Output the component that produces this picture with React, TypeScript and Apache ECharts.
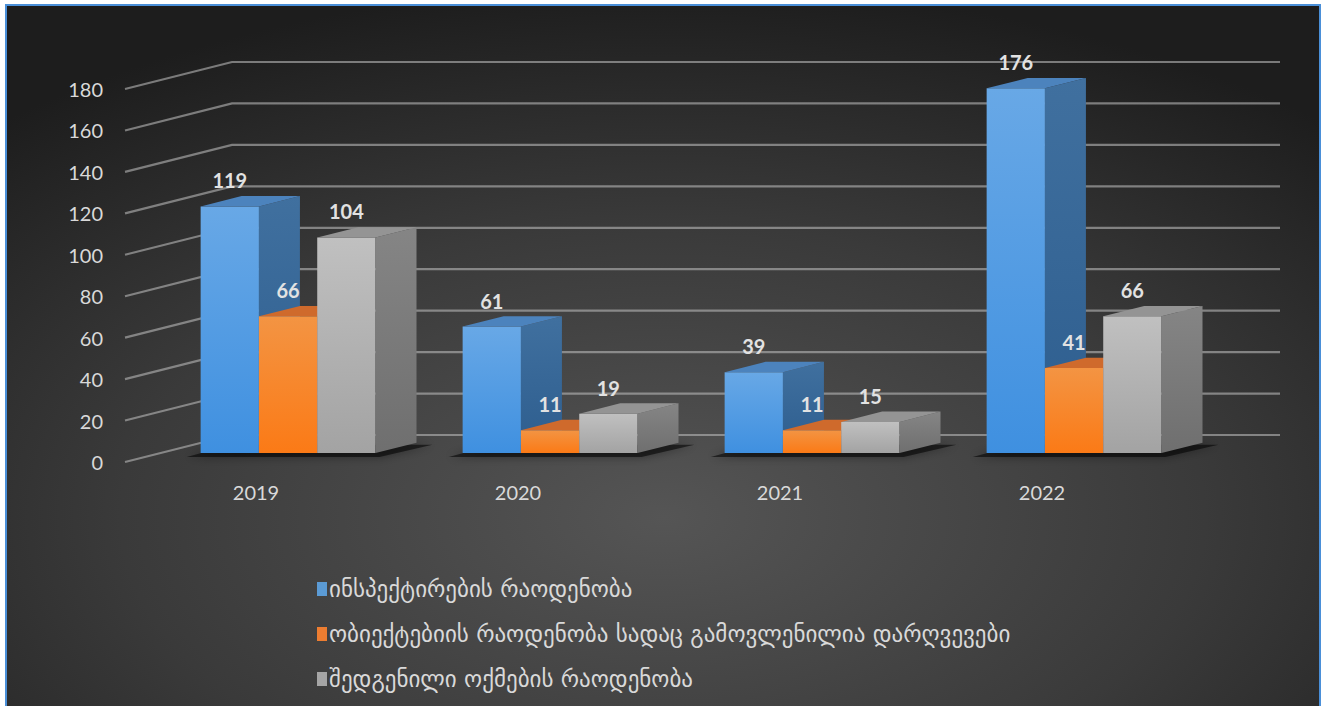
import React, { useEffect, useRef } from "react";
import * as echarts from "echarts";

const CATEGORIES = ["2019", "2020", "2021", "2022"];
const INSPECTIONS = [119, 61, 39, 176];
const VIOLATIONS = [66, 11, 11, 41];
const PROTOCOLS = [104, 19, 15, 66];
const SERIES_NAMES = [
  "ინსპექტირების რაოდენობა",
  "ობიექტებიის რაოდენობა სადაც გამოვლენილია დარღვევები",
  "შედგენილი ოქმების რაოდენობა",
];
const Y_TICKS = [0, 20, 40, 60, 80, 100, 120, 140, 160, 180];

// projection / layout constants
const DEPTH = [107, -27];
const BAR_DEPTH_START = 0.333;
const BAR_DEPTH = 0.383;
const GROUP_OFFSET = 0.1527;
const BAR_W = 0.2225;

const FACE_STYLES = [
  {
    front: ["#68a8e6", "#3f90e0"],
    side: ["#40709f", "#2d5d8e"],
    top: "#4c83bd",
    legend: "#5b9bd5",
  },
  {
    front: ["#f39443", "#fb7a16"],
    side: ["#b85d22", "#a9521b"],
    top: "#cf6a2c",
    legend: "#ed7d31",
  },
  {
    front: ["#c0c0c0", "#a3a3a3"],
    side: ["#858585", "#6f6f6f"],
    top: "#949494",
    legend: "#a5a5a5",
  },
];

const vgrad = (a: string, b: string) =>
  new echarts.graphic.LinearGradient(0, 0, 0, 1, [
    { offset: 0, color: a },
    { offset: 1, color: b },
  ]);

function barRenderer(sIdx: number) {
  return (params: any, api: any) => {
    const cat = api.value(0);
    const v = api.value(1);
    const base = api.coord([cat, 0]);
    const top = api.coord([cat, v]);
    const B = api.size([1, 0])[0];
    const bandStart = base[0] - B / 2;
    const fx = DEPTH[0] * BAR_DEPTH_START;
    const fy = DEPTH[1] * BAR_DEPTH_START;
    const x0 = bandStart + B * (GROUP_OFFSET + sIdx * BAR_W) + fx;
    const x1 = x0 + B * BAR_W;
    const yb = base[1] + fy;
    const yt = top[1] + fy;
    const dx = DEPTH[0] * BAR_DEPTH;
    const dy = DEPTH[1] * BAR_DEPTH;
    const st = FACE_STYLES[sIdx];
    return {
      type: "group",
      children: [
        {
          type: "polygon",
          shape: { points: [[x0, yb], [x1, yb], [x1, yt], [x0, yt]] },
          style: { fill: vgrad(st.front[0], st.front[1]) },
        },
        {
          type: "polygon",
          shape: {
            points: [[x1, yb], [x1 + dx, yb + dy], [x1 + dx, yt + dy], [x1, yt]],
          },
          style: { fill: vgrad(st.side[0], st.side[1]) },
        },
        {
          type: "polygon",
          shape: {
            points: [[x0, yt], [x1, yt], [x1 + dx, yt + dy], [x0 + dx, yt + dy]],
          },
          style: { fill: st.top },
        },
        {
          type: "text",
          z2: 100,
          style: {
            text: String(v),
            x: (x0 + x1) / 2,
            y: yt - 26,
            align: "center",
            verticalAlign: "middle",
            fill: "#e2e2e2",
            font: "bold 20px Lato",
          },
        },
      ],
    };
  };
}

function gridRenderer(params: any, api: any) {
  const cs = params.coordSys;
  const y = api.coord([0, api.value(1)])[1];
  const x = cs.x;
  return {
    type: "polyline",
    shape: {
      points: [
        [x, y],
        [x + DEPTH[0], y + DEPTH[1]],
        [x + cs.width + DEPTH[0], y + DEPTH[1]],
      ],
    },
    style: { stroke: "rgba(185,185,185,0.6)", lineWidth: 2.2, fill: "none" },
    silent: true,
  };
}

function shadowRenderer(params: any, api: any) {
  const cat = api.value(0);
  const base = api.coord([cat, 0]);
  const B = api.size([1, 0])[0];
  const bandStart = base[0] - B / 2;
  const fx = DEPTH[0] * BAR_DEPTH_START;
  const fy = DEPTH[1] * BAR_DEPTH_START;
  const x0 = bandStart + B * GROUP_OFFSET + fx;
  const x1 = x0 + B * BAR_W * 3;
  const yb = base[1] + fy;
  const dx = DEPTH[0] * BAR_DEPTH;
  const dy = DEPTH[1] * BAR_DEPTH;
  return {
    type: "polygon",
    shape: {
      points: [
        [x0 - 14, yb + 4],
        [x1 + 4, yb + 4],
        [x1 + dx + 16, yb + dy + 2],
        [x0 + dx - 10, yb + dy + 2],
      ],
    },
    style: {
      fill: "rgba(10,10,10,0.55)",
      shadowBlur: 10,
      shadowColor: "rgba(0,0,0,0.7)",
    },
    silent: true,
  };
}

export default function App() {
  const ref = useRef<HTMLDivElement>(null);
  useEffect(() => {
    if (!ref.current) return;
    const chart = echarts.init(ref.current, undefined, { renderer: "svg" });
    const seriesData = [INSPECTIONS, VIOLATIONS, PROTOCOLS];
    const option: any = {
      animation: false,
      backgroundColor: "#ffffff",
      graphic: {
        elements: [
          {
            type: "rect",
            z: -100,
            silent: true,
            shape: { x: 6, y: 5, width: 1314, height: 712 },
            style: {
              fill: new echarts.graphic.RadialGradient(0.5, 0.72, 0.75, [
                { offset: 0, color: "#555555" },
                { offset: 0.55, color: "#3a3a3a" },
                { offset: 1, color: "#1d1d1d" },
              ]),
              stroke: "#4a8fd8",
              lineWidth: 2,
            },
          },
        ],
      },
      grid: { left: 125, right: 157, top: 89, bottom: 244, containLabel: false },
      xAxis: {
        type: "category",
        data: CATEGORIES,
        axisLine: { show: false },
        axisTick: { show: false },
        splitLine: { show: false },
        axisLabel: {
          color: "#d9d9d9",
          fontFamily: "Lato",
          fontSize: 20,
          margin: 20,
        },
      },
      yAxis: {
        type: "value",
        min: 0,
        max: 180,
        interval: 20,
        axisLine: { show: false },
        axisTick: { show: false },
        splitLine: { show: false },
        axisLabel: {
          color: "#d9d9d9",
          fontFamily: "Lato",
          fontSize: 20,
          margin: 22,
          padding: [5, 0, 0, 0],
        },
      },
      legend: {
        orient: "vertical",
        left: 312,
        top: 572,
        itemWidth: 10,
        itemHeight: 14,
        itemGap: 21,
        icon: "rect",
        data: SERIES_NAMES,
        textStyle: {
          color: "#d9d9d9",
          fontFamily: "DejaVu Sans",
          fontSize: 23,
          lineHeight: 24,
          padding: [0, 0, 0, -3],
        },
      },
      series: [
        {
          type: "custom",
          name: "__grid",
          silent: true,
          z: 1,
          renderItem: gridRenderer,
          data: Y_TICKS.map((v) => [0, v]),
        },
        {
          type: "custom",
          name: "__shadow",
          silent: true,
          z: 1,
          renderItem: shadowRenderer,
          data: CATEGORIES.map((_, i) => [i, 0]),
        },
        ...seriesData.map((arr, sIdx) => ({
          type: "custom",
          name: SERIES_NAMES[sIdx],
          z: 2 + sIdx,
          itemStyle: { color: FACE_STYLES[sIdx].legend },
          renderItem: barRenderer(sIdx),
          data: arr.map((v, i) => [i, v]),
        })),
      ],
    };
    chart.setOption(option);
    return () => chart.dispose();
  }, []);
  return (
    <div
      ref={ref}
      style={{ position: "fixed", left: 0, top: 0, width: 1330, height: 706 }}
    />
  );
}
